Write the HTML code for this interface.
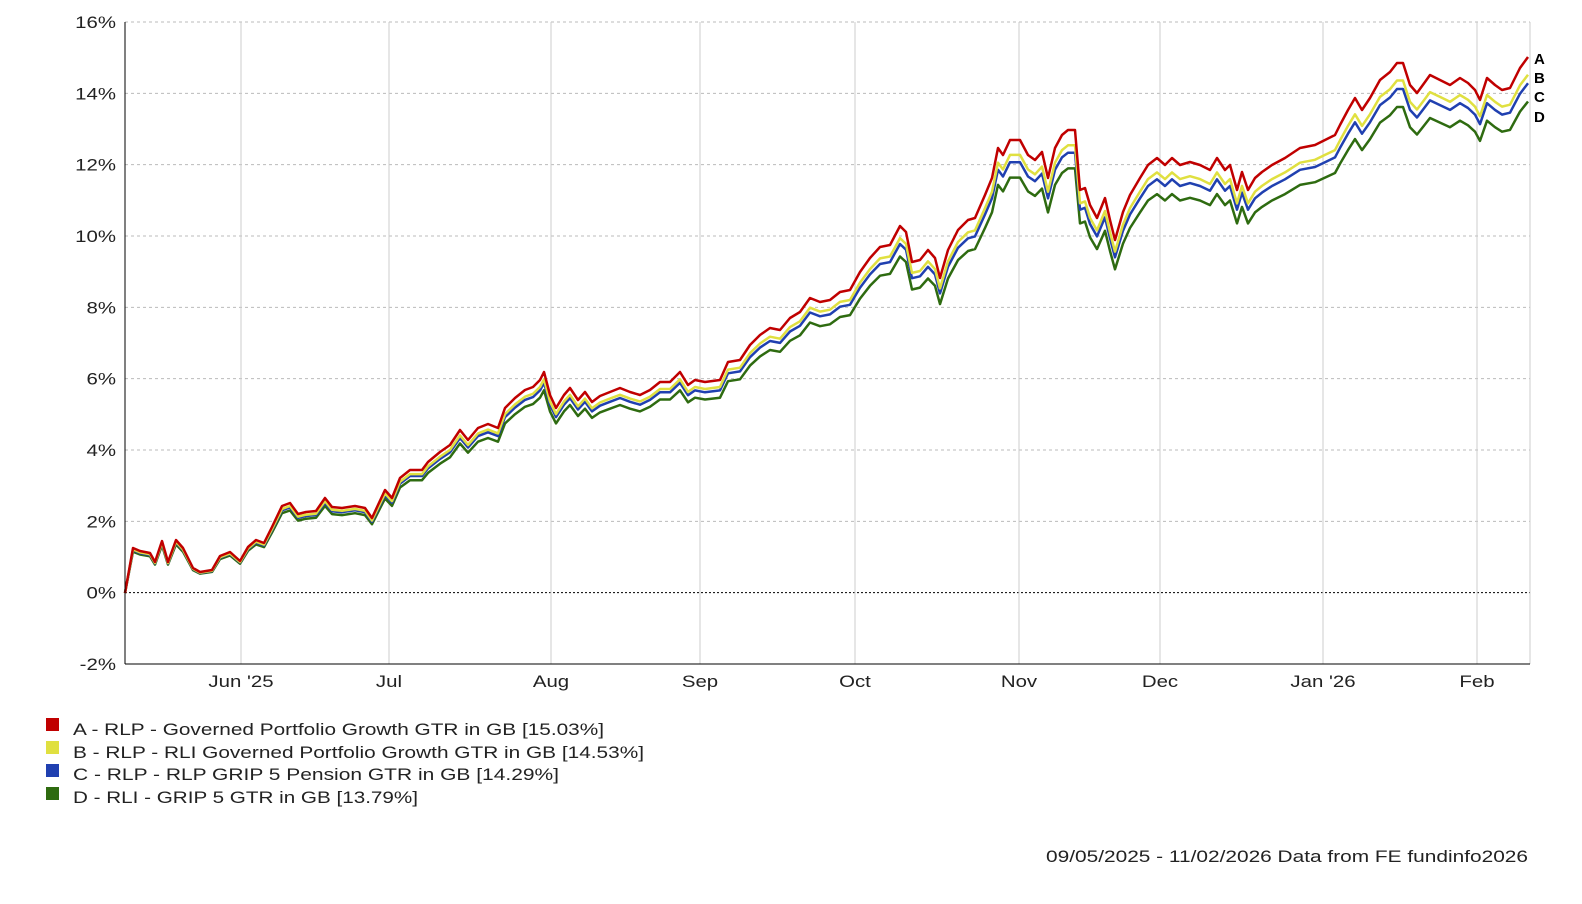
<!DOCTYPE html>
<html><head><meta charset="utf-8"><style>
body{margin:0;background:#fff;}
svg text{font-family:"Liberation Sans",Arial,sans-serif;}
</style></head><body>
<svg id="s" width="1582" height="899" xmlns="http://www.w3.org/2000/svg">
<rect width="1582" height="899" fill="#fff"/>
<g id="grid"></g>
<g id="lines"></g>
<line x1="125" y1="22" x2="125" y2="664" stroke="#000" stroke-width="1"/>
<line x1="125" y1="664" x2="1530" y2="664" stroke="#000" stroke-width="1"/>
<g font-size="17" fill="#222" text-anchor="end" id="ylab"></g>
<g font-size="17" fill="#222" text-anchor="middle">
<text class="w" x="241" y="687">Jun '25</text><text class="w" x="389" y="687">Jul</text><text class="w" x="551" y="687">Aug</text>
<text class="w" x="700" y="687">Sep</text><text class="w" x="855" y="687">Oct</text><text class="w" x="1019" y="687">Nov</text>
<text class="w" x="1160" y="687">Dec</text><text class="w" x="1323" y="687">Jan '26</text><text class="w" x="1477" y="687">Feb</text>
</g>
<g font-size="15" font-weight="bold" fill="#000">
<text x="1534" y="64">A</text><text x="1534" y="83">B</text><text x="1534" y="102">C</text><text x="1534" y="122">D</text>
</g>
<g font-size="17" fill="#222">
<rect x="46" y="718" width="13" height="13" fill="#c00000"/><text x="73" y="735" textLength="531" lengthAdjust="spacingAndGlyphs">A - RLP - Governed Portfolio Growth GTR in GB [15.03%]</text>
<rect x="46" y="741" width="13" height="13" fill="#e0e040"/><text x="73" y="758" textLength="571" lengthAdjust="spacingAndGlyphs">B - RLP - RLI Governed Portfolio Growth GTR in GB [14.53%]</text>
<rect x="46" y="764" width="13" height="13" fill="#2040b0"/><text x="73" y="780" textLength="486" lengthAdjust="spacingAndGlyphs">C - RLP - RLP GRIP 5 Pension GTR in GB [14.29%]</text>
<rect x="46" y="787" width="13" height="13" fill="#2e6b10"/><text x="73" y="803" textLength="345" lengthAdjust="spacingAndGlyphs">D - RLI - GRIP 5 GTR in GB [13.79%]</text>
<text x="1046" y="862" textLength="482" lengthAdjust="spacingAndGlyphs">09/05/2025 - 11/02/2026 Data from FE fundinfo2026</text>
</g>
</svg>
<script>
var NS="http://www.w3.org/2000/svg";
function el(t,a,p){var e=document.createElementNS(NS,t);for(var k in a)e.setAttribute(k,a[k]);p.appendChild(e);return e;}
var g=document.getElementById("grid"),yl=document.getElementById("ylab");
for(var i=0;i<=9;i++){var v=16-2*i,y=22+i*642/9;
 if(v!==-2)el("line",{x1:125,x2:1530,y1:y,y2:y,stroke:v===0?"#000":"#bbb","stroke-width":1,"stroke-dasharray":v===0?"2,2":"3,3"},g);
 var t=el("text",{x:116,y:y+6,"class":"w"},yl);t.textContent=v+"%";}
[241,389,551,700,855,1019,1160,1323,1477,1530].forEach(function(x){el("line",{x1:x,x2:x,y1:22,y2:664,stroke:"#ccc","stroke-width":1},g);});
document.querySelectorAll("text.w").forEach(function(t){var l=t.getComputedTextLength();t.setAttribute("textLength",(l*1.2).toFixed(1));t.setAttribute("lengthAdjust","spacingAndGlyphs");});
var P=[125,593,133,548,140,551,150,553,155,562,162,541,168,562,176,540,183,548,193,568,200,572,212,570,220,556,230,552,240,561,248,547,256,540,264,543,272,527,282,506,290,503,298,514,306,512,316,511,325,498,332,507,342,508,355,506,365,508,372,518,378,505,385,490,392,498,400,478,410,470,422,470,428,462,440,452,450,445,460,430,468,440,478,428,488,424,498,428,505,408,515,398,525,390,533,387,540,380,544,372,550,395,556,408,564,395,570,388,578,400,585,392,592,402,600,396,610,392,620,388,630,392,640,395,650,390,660,382,670,382,680,372,688,385,695,380,705,382,720,380,728,362,740,360,750,345,760,335,770,328,780,330,790,318,800,312,810,298,820,302,830,300,840,292,850,290,860,272,870,258,880,247,890,245,900,226,906,232,912,262,920,260,928,250,935,258,940,278,948,250,958,230,968,220,975,218,985,195,992,178,998,148,1003,155,1010,140,1020,140,1028,155,1035,160,1042,152,1048,178,1055,148,1062,135,1068,130,1075,130,1080,190,1085,188,1090,205,1097,218,1105,198,1110,220,1115,240,1123,212,1130,195,1140,178,1148,165,1157,158,1165,165,1172,158,1180,165,1190,162,1200,165,1210,170,1217,158,1225,170,1230,165,1237,190,1242,172,1248,190,1255,178,1262,172,1272,165,1285,158,1300,148,1315,145,1325,140,1335,135,1340,125,1348,110,1355,98,1362,110,1370,98,1380,80,1390,72,1397,63,1403,63,1410,85,1417,93,1425,82,1430,75,1440,80,1450,85,1460,78,1468,83,1475,90,1480,100,1487,78,1495,85,1502,90,1510,88,1520,68,1528,57];
var L=document.getElementById("lines");
[[0.917,"#2e6b10"],[0.951,"#2040b0"],[0.967,"#e0e040"],[1,"#c00000"]].forEach(function(s){
 var pts=[];for(var i=0;i<P.length;i+=2){pts.push(P[i]+","+(593-(593-P[i+1])*s[0]).toFixed(1));}
 el("polyline",{points:pts.join(" "),fill:"none",stroke:s[1],"stroke-width":2.5,"stroke-linejoin":"round"},L);});
</script>
</body></html>
